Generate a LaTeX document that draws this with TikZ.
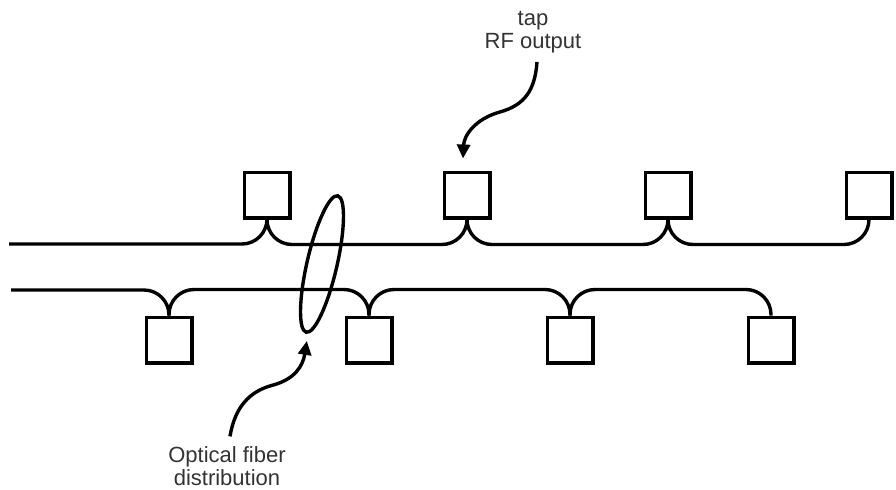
\documentclass[tikz,border=0pt]{standalone}
\usepackage{fontspec}
\setmainfont{Liberation Sans}
\usetikzlibrary{arrows.meta,calc,shapes.geometric}

\begin{document}
\begin{tikzpicture}[
  x=0.5pt, y=-0.5pt,
  tapbox/.style={rectangle, draw=black, line width=1.7pt,
                 minimum size=22.8pt, inner sep=0pt},
  feed/.style={line width=1.7pt, rounded corners=12.5pt},
  bundle/.style={ellipse, draw=black, line width=1.7pt,
                 minimum width=70pt, minimum height=15pt,
                 inner sep=0pt, rotate=77},
  lbl/.style={align=center, font=\fontsize{11}{11.5}\selectfont, text=black!80},
  callout/.style={-{Triangle[length=7pt,width=6.5pt]}, line width=1.7pt}
]
\useasboundingbox (0,0) rectangle (896,489);

% taps on the upper cable
\node[tapbox] (t1) at (267,195) {};
\node[tapbox] (t2) at (467,195) {};
\node[tapbox] (t3) at (668,195) {};
\node[tapbox] (t4) at (869,195) {};

% taps on the lower cable
\node[tapbox] (b1) at (169,340) {};
\node[tapbox] (b2) at (369,340) {};
\node[tapbox] (b3) at (570,340) {};
\node[tapbox] (b4) at (771,340) {};

\coordinate (tstart) at (9,244);
\coordinate (bstart) at (11,290);

% upper cable
\draw[feed] (tstart) -| (t1.south);
\draw[feed] (t1.south) |- ($(t1.south)!.5!(t2.south)+(0,25)$) -| (t2.south);
\draw[feed] (t2.south) |- ($(t2.south)!.5!(t3.south)+(0,25)$) -| (t3.south);
\draw[feed] (t3.south) |- ($(t3.south)!.5!(t4.south)+(0,25)$) -| (t4.south);

% lower cable
\draw[feed] (bstart) -| (b1.north);
\draw[feed] (b1.north) |- ($(b1.north)!.5!(b2.north)+(0,-26)$) -| (b2.north);
\draw[feed] (b2.north) |- ($(b2.north)!.5!(b3.north)+(0,-26)$) -| (b3.north);
\draw[feed] (b3.north) |- ($(b3.north)!.5!(b4.north)+(0,-26)$) -| (b4.north);

% fiber bundle
\node[bundle] (fiber) at (322,264) {};

% labels
\node[lbl] (taplbl) at (533,32) {tap\\RF output};
\node[lbl] (fiberlbl) at (227,466) {Optical fiber\\distribution};

\draw[callout] (taplbl.south) ++(4,2)
  .. controls +(-2,28) and +(25,-7) .. ++(-37,50)
  .. controls +(-25,7) and +(1,-23) .. ($(t2.north)+(-4,-12)$);
\draw[callout] (fiberlbl.north) ++(3,-3)
  .. controls +(5,-30) and +(-22,6) .. ++(42,-51)
  .. controls +(23,-6) and +(-4,25) .. ($(fiber.west)+(1,7)$);
\end{tikzpicture}
\end{document}
